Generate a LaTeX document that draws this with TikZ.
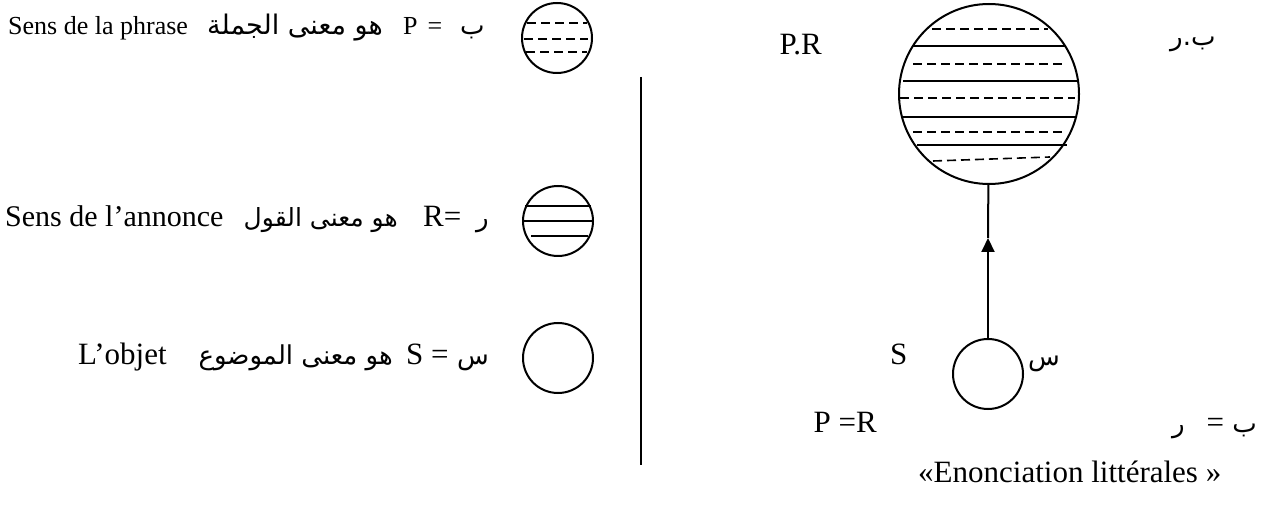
\documentclass[tikz,border=0pt]{standalone}
\usepackage{fontspec}
\setmainfont{Liberation Serif}
\newfontfamily\arabicfont[Script=Arabic]{DejaVu Sans}
\TeXXeTstate=1
\usetikzlibrary{positioning, arrows.meta, calc}

\begin{document}
\begin{tikzpicture}[
    x=1pt, y=-1pt,
    every node/.style={inner sep=0pt, font=\fontsize{31}{36}\selectfont},
    small/.style={font=\fontsize{26}{30}\selectfont},
    disc/.style={
      draw,
      circle,
      line width=2pt,
      minimum size=70pt
    },
    full/.style={line width=2pt},
    hatch/.style={line width=1.6pt, dash pattern=on 9pt off 5pt},
    arrow/.style={
      -{Triangle[length=14pt,width=13pt]},
      line width=2pt
    }
  ]
  \useasboundingbox (0,0) rectangle (1266,510);

  % legend
  \node[small, anchor=base west] (phrase) at (8,35) {Sens de la phrase};
  \node[anchor=base east] (jumla) at (383,35) {\arabicfont\fontsize{27}{32}\selectfont\beginR هو معنى الجملة\endR};
  \node[small, anchor=base west] (peq) at (403,35) {P\hspace{10pt}=};
  \node[anchor=base west] (ba) at (460,35) {\arabicfont\fontsize{26}{30}\selectfont ب};
  \node[disc] (cp) at (557,38) {};
  \foreach \y/\xa/\xb in {23/527/587, 39/524/588, 52/526/587}
    \draw[hatch] (\xa,\y) -- (\xb,\y);

  \node[anchor=base west, font=\fontsize{30}{34}\selectfont] (annonce) at (5,227) {Sens de l’annonce};
  \node[anchor=base east] (qawl) at (398,227) {\arabicfont\fontsize{25}{30}\selectfont\beginR هو معنى القول\endR};
  \node[anchor=base west] (req) at (423,227) {R=};
  \node[anchor=base west] (ra) at (476,227) {\arabicfont\fontsize{26}{30}\selectfont ر};
  \node[disc] (cr) at (558,221) {};
  \foreach \y/\xa/\xb in {206/525/591, 221/524/592, 236/531/588}
    \draw[full] (\xa,\y) -- (\xb,\y);

  \node[anchor=base west] (objet) at (78,365) {L’objet};
  \node[anchor=base east] (mawdu) at (393,365) {\arabicfont\fontsize{26}{30}\selectfont\beginR هو معنى الموضوع\endR};
  \node[anchor=base west] (seq) at (406,365) {S =};
  \node[anchor=base west] (sin) at (457,365) {\arabicfont\fontsize{26}{30}\selectfont س};
  \node[disc] (cs) at (558,358) {};

  % separator
  \coordinate (septop) at (641,77);
  \coordinate (sepbot) at (641,465);
  \draw[full] (septop) -- (sepbot);

  % literal enunciation
  \node[disc, minimum size=180pt] (big) at (989,94) {};
  \foreach \y/\xa/\xb in {46/913/1065, 81/903/1077, 117/903/1077, 145/917/1067}
    \draw[full] (\xa,\y) -- (\xb,\y);
  \foreach \y/\xa/\xb in {29/932/1048, 64/913/1063, 98/900/1075, 132/913/1063}
    \draw[hatch] (\xa,\y) -- (\xb,\y);
  \draw[hatch] (933,161) -- (1050,157);

  \node[anchor=base east] (pr) at (822,55) {P.R};
  \node[anchor=base west] (bar) at (1170,46) {\arabicfont\fontsize{26}{30}\selectfont\beginR ب.ر\endR};

  \node[disc] (small) at (988,374) {};
  \node[anchor=base west] (s) at (890,365) {S};
  \node[anchor=base west] (sr) at (1028,366) {\arabicfont\fontsize{26}{30}\selectfont س};
  \coordinate (tip) at (988,238);
  \draw[arrow] (small) -- (tip);
  \draw[full] (tip) -- (big);

  \node[anchor=base east] (peqr) at (877,432) {P =R};
  \node[anchor=base east] (breq) at (1257,432) {\arabicfont\fontsize{26}{30}\selectfont\beginR ب \normalfont\fontsize{31}{36}\selectfont=\hspace{22pt}\arabicfont\fontsize{26}{30}\selectfont ر\endR};
  \node[anchor=base west] (enon) at (918,482) {«Enonciation littérales »};
\end{tikzpicture}
\end{document}
